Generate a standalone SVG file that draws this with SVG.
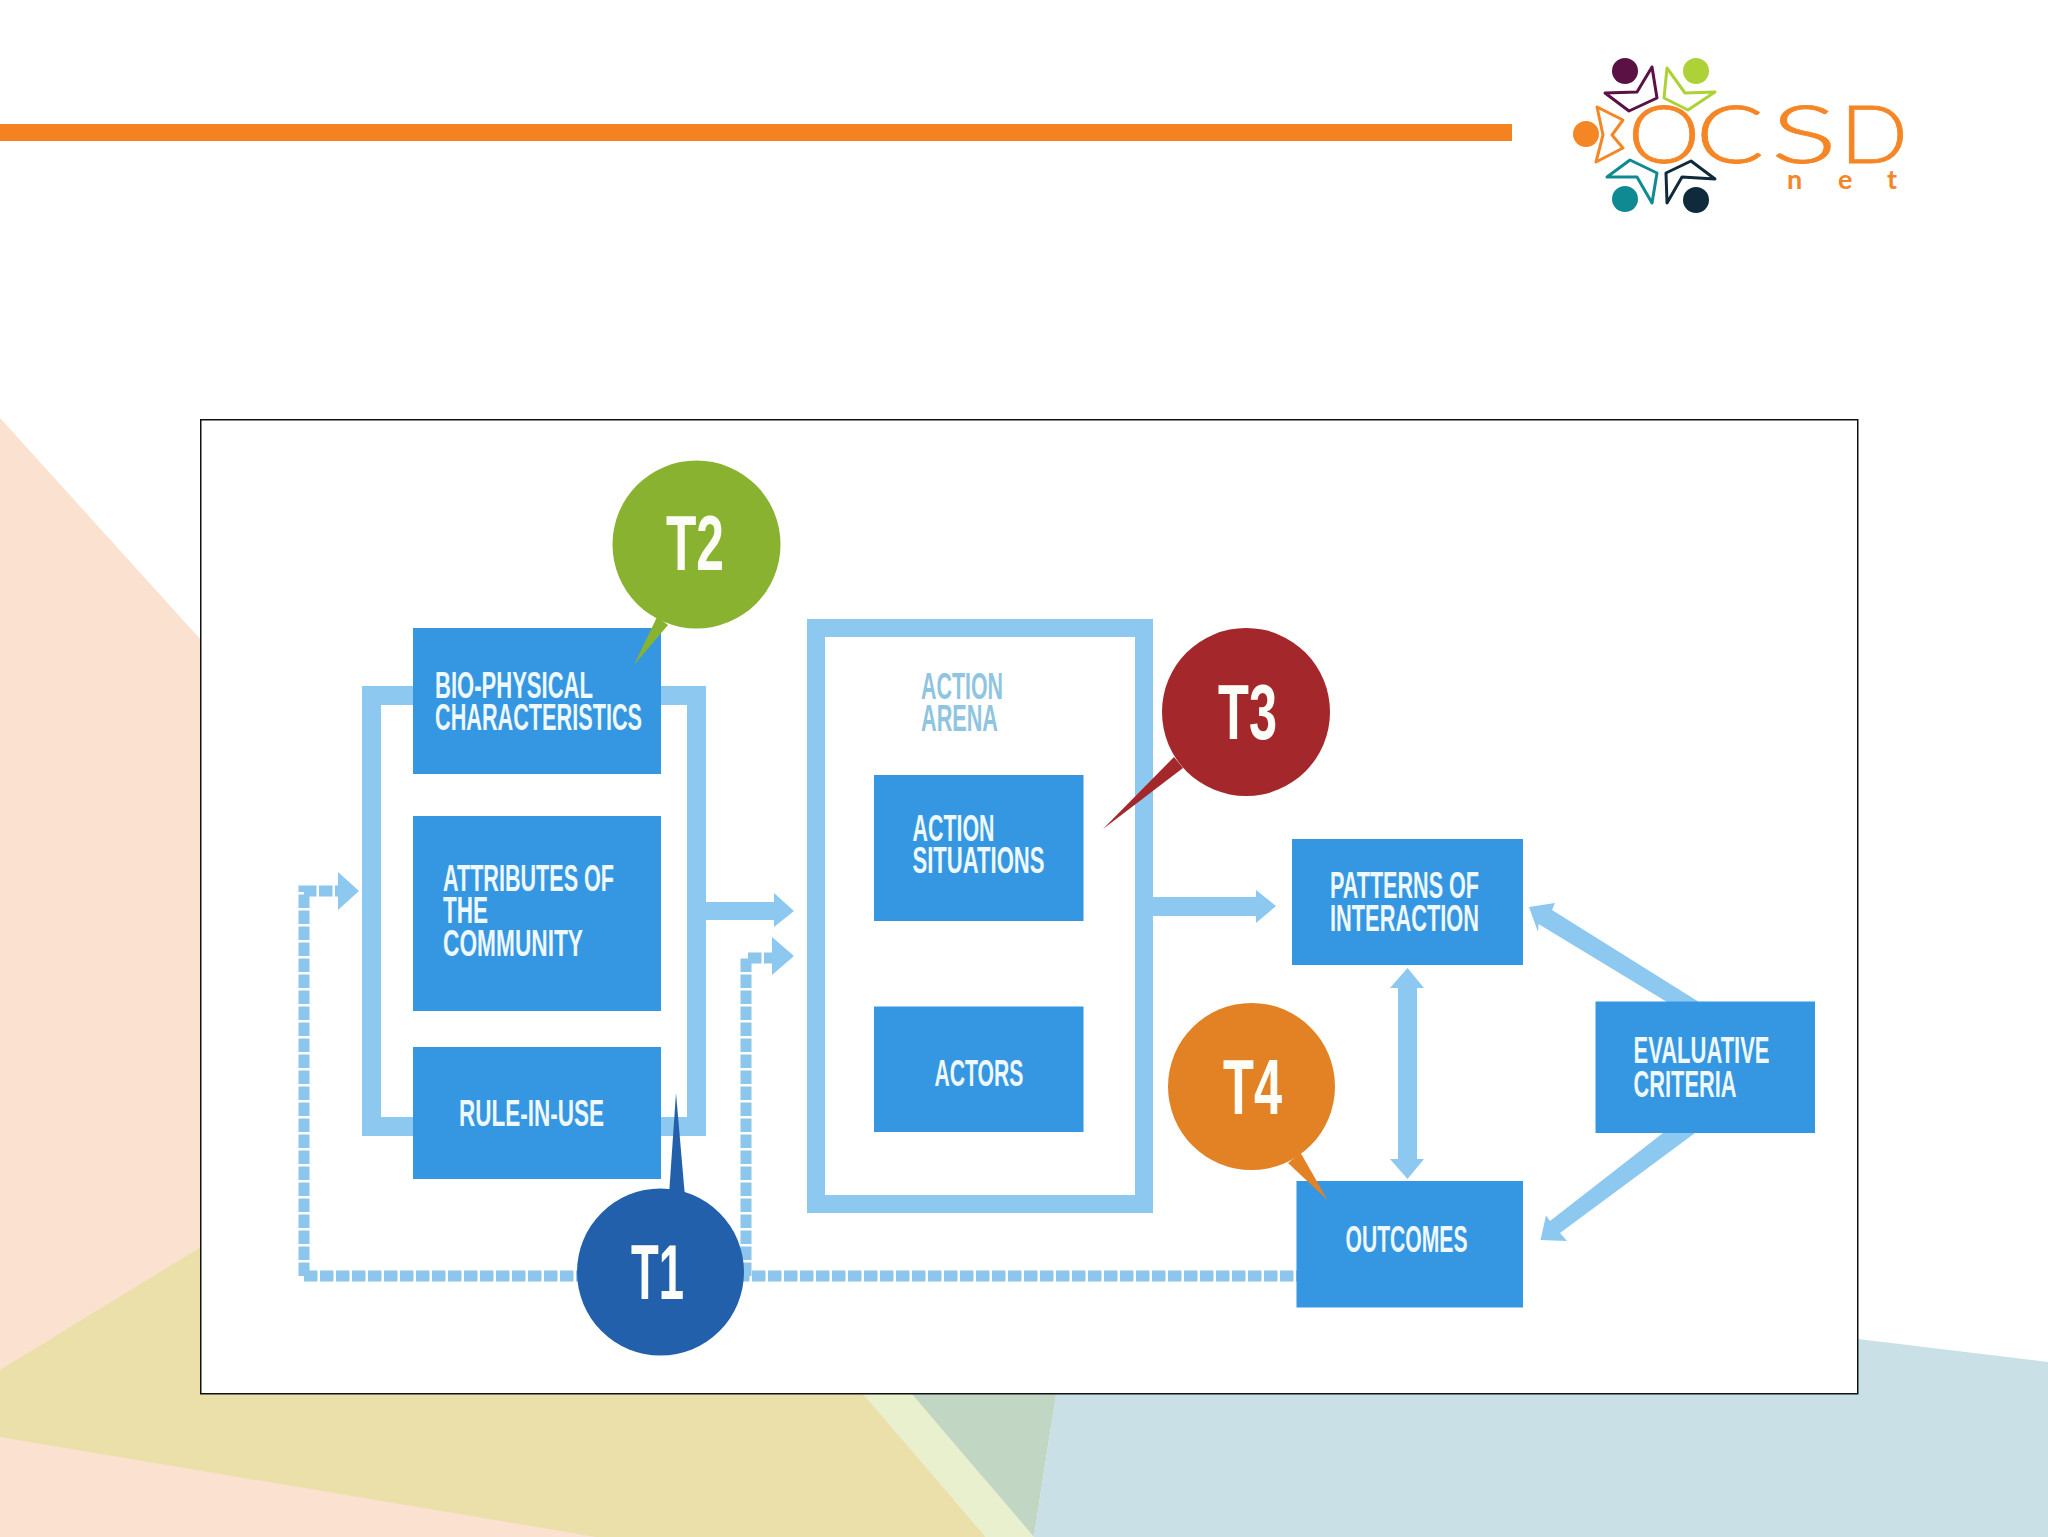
<svg xmlns="http://www.w3.org/2000/svg" width="2048" height="1537" viewBox="0 0 2048 1537">
<style>
.lb{font-family:"Liberation Sans",Arial,sans-serif;font-weight:700;font-size:36px;fill:#eef8fd}
.al{fill:#8fc5e0}
.tt{font-family:"Liberation Sans",Arial,sans-serif;font-weight:700;font-size:77px;fill:#fdfdf8}
.box{fill:#3597e2}
.fr{fill:none;stroke:#8cc8f0}
.ah{fill:#8cc8f0}
.dash{fill:none;stroke:#8cc6ec;stroke-width:11;stroke-dasharray:13.5 2.5}
.star{fill:none;stroke-width:3;stroke-linejoin:round}
.lg{font-family:Lato,"Liberation Sans",sans-serif;fill:#f58626}
</style>
<rect width="2048" height="1537" fill="#ffffff"/>
<g id="background">
<polygon points="0,418 201,640 201,1394 1100,1394 900,1537 0,1537" fill="#fbe1cf"/>
<polygon points="201,1247 0,1370 0,1437 596,1537 986,1537 863,1394 201,1394" fill="#ebdfaa"/>
<polygon points="863,1394 912,1394 1034,1537 986,1537" fill="#e9f0cd"/>
<polygon points="912,1394 1056,1394 1034,1537" fill="#c1d7c3"/>
<polygon points="1056,1394 1858,1394 1858,1339 2048,1362 2048,1537 1034,1537" fill="#c9e0e6"/>
</g>
<rect id="top-bar" x="0" y="124" width="1512" height="17" fill="#f58220"/>
<g id="logo">
<circle cx="1625" cy="71" r="13" fill="#5c1144"/>
<circle cx="1696" cy="71" r="13" fill="#add136"/>
<circle cx="1586" cy="134" r="13" fill="#f58626"/>
<circle cx="1625" cy="199" r="13" fill="#0f8a93"/>
<circle cx="1696" cy="200" r="13" fill="#0f2a3a"/>
<polygon class="star" stroke="#5c1144" points="1652,67 1637,92 1605,93 1629,111 1657,98"/>
<polygon class="star" stroke="#add136" points="1667,68 1685,93 1715,92 1688,110 1664,98"/>
<polygon class="star" stroke="#f58626" points="1597,107 1623,120 1612,135 1623,148 1596,162 1603,135"/>
<polygon class="star" stroke="#0f8a93" points="1607,177 1630,160 1657,173 1652,203 1637,177"/>
<polygon class="star" stroke="#0f2a3a" points="1715,179 1691,161 1666,173 1667,203 1682,177"/>
<text class="lg" y="163" font-size="81" font-weight="300" stroke="#f58626" stroke-width="0.8"><tspan x="1628" textLength="72" lengthAdjust="spacingAndGlyphs">O</tspan><tspan x="1696" textLength="68" lengthAdjust="spacingAndGlyphs">C</tspan><tspan x="1771" textLength="66" lengthAdjust="spacingAndGlyphs">S</tspan><tspan x="1840" textLength="68" lengthAdjust="spacingAndGlyphs">D</tspan></text>
<text class="lg" x="1787 1838 1887" y="189" font-size="27" font-weight="700">net</text>
</g>
<rect id="panel" x="200.75" y="419.75" width="1657" height="974" fill="#ffffff" stroke="#111111" stroke-width="1.5"/>
<g id="connectors">
<path class="fr" stroke-width="19" d="M413 695.500H371.500V1126.500H413"/>
<path class="fr" stroke-width="19" d="M661 695.500H696.500V1126.500H661"/>
<polygon class="ah" points="706,902 774,902 774,893 794,911 774,927 774,920 706,920"/>
<path class="dash" d="M304 1276V891H340"/>
<polygon class="ah" points="338,872 359,891 338,910"/>
<path class="dash" d="M304 1276H1297"/>
<path class="dash" d="M746 1276V958H774"/>
<polygon class="ah" points="772,937 794,956 772,975"/>
<polygon class="ah" points="1152,897 1256,897 1256,890 1276,906 1256,923 1256,916 1152,916"/>
<polygon class="ah" points="1407.500,968 1424,988 1417,988 1417,1159 1424,1159 1407.500,1179 1390,1159 1398,1159 1398,988 1390,988"/>
<polygon class="ah" points="1699,1002 1552,910 1555,903 1529,907 1538,932 1538.500,924 1667,1002"/>
<polygon class="ah" points="1695,1133 1560,1233 1567,1241 1540.500,1240 1546,1215.500 1550,1221 1663,1133"/>
</g>
<g id="action-arena">
<rect x="816" y="628" width="328" height="576" fill="none" stroke="#8cc8f0" stroke-width="18"/>
<text class="lb al" style="fill:#8fc5e0" x="921" y="699" textLength="82" lengthAdjust="spacingAndGlyphs">ACTION</text>
<text class="lb al" style="fill:#8fc5e0" x="921" y="731" textLength="77" lengthAdjust="spacingAndGlyphs">ARENA</text>
</g>
<g id="bio-physical">
<rect class="box" x="413" y="628" width="248" height="146"/>
<text class="lb" x="435" y="698" textLength="158" lengthAdjust="spacingAndGlyphs">BIO-PHYSICAL</text>
<text class="lb" x="435" y="730" textLength="207" lengthAdjust="spacingAndGlyphs">CHARACTERISTICS</text>
</g>
<g id="attributes">
<rect class="box" x="413" y="816" width="248" height="195"/>
<text class="lb" x="443" y="891" textLength="171" lengthAdjust="spacingAndGlyphs">ATTRIBUTES OF</text>
<text class="lb" x="443" y="923" textLength="45" lengthAdjust="spacingAndGlyphs">THE</text>
<text class="lb" x="443" y="956" textLength="140" lengthAdjust="spacingAndGlyphs">COMMUNITY</text>
</g>
<g id="rule-in-use">
<rect class="box" x="413" y="1047" width="248" height="132"/>
<text class="lb" x="459" y="1126" textLength="145" lengthAdjust="spacingAndGlyphs">RULE-IN-USE</text>
</g>
<g id="action-situations">
<rect class="box" x="874" y="775" width="209.500" height="146"/>
<text class="lb" x="912.500" y="841" textLength="82" lengthAdjust="spacingAndGlyphs">ACTION</text>
<text class="lb" x="912.500" y="873" textLength="132" lengthAdjust="spacingAndGlyphs">SITUATIONS</text>
</g>
<g id="actors">
<rect class="box" x="874" y="1006.500" width="209.500" height="125.500"/>
<text class="lb" x="934.500" y="1086" textLength="89" lengthAdjust="spacingAndGlyphs">ACTORS</text>
</g>
<g id="patterns">
<rect class="box" x="1292" y="839" width="231" height="126"/>
<text class="lb" x="1330" y="898" textLength="149" lengthAdjust="spacingAndGlyphs">PATTERNS OF</text>
<text class="lb" x="1330" y="931" textLength="149" lengthAdjust="spacingAndGlyphs">INTERACTION</text>
</g>
<g id="outcomes">
<rect class="box" x="1296.500" y="1181" width="226.500" height="126.500"/>
<text class="lb" x="1345.500" y="1252" textLength="122" lengthAdjust="spacingAndGlyphs">OUTCOMES</text>
</g>
<g id="evaluative">
<rect class="box" x="1595.500" y="1001.500" width="219.500" height="131.500"/>
<text class="lb" x="1633.500" y="1063" textLength="136" lengthAdjust="spacingAndGlyphs">EVALUATIVE</text>
<text class="lb" x="1633.500" y="1097" textLength="103" lengthAdjust="spacingAndGlyphs">CRITERIA</text>
</g>
<g id="t1">
<polygon fill="#2260ab" points="676,1093 669,1195 685,1197"/>
<circle cx="660.500" cy="1272" r="83.500" fill="#2260ab"/>
<text class="tt" x="631" y="1299" textLength="53" lengthAdjust="spacingAndGlyphs">T1</text>
</g>
<g id="t2">
<polygon fill="#8ab231" points="634,665 657,617 668,625"/>
<circle cx="696.500" cy="544.500" r="84" fill="#8ab231"/>
<text class="tt" x="666" y="570" textLength="58" lengthAdjust="spacingAndGlyphs">T2</text>
</g>
<g id="t3">
<polygon fill="#a3272b" points="1103,829 1174,757 1183,768"/>
<circle cx="1246" cy="712" r="84" fill="#a3272b"/>
<text class="tt" x="1218" y="739" textLength="59" lengthAdjust="spacingAndGlyphs">T3</text>
</g>
<g id="t4">
<polygon fill="#e28224" points="1327.500,1200 1288,1163 1300.700,1153"/>
<circle cx="1251.500" cy="1086.500" r="83.500" fill="#e28224"/>
<text class="tt" x="1223" y="1114" textLength="59" lengthAdjust="spacingAndGlyphs">T4</text>
</g>
</svg>
